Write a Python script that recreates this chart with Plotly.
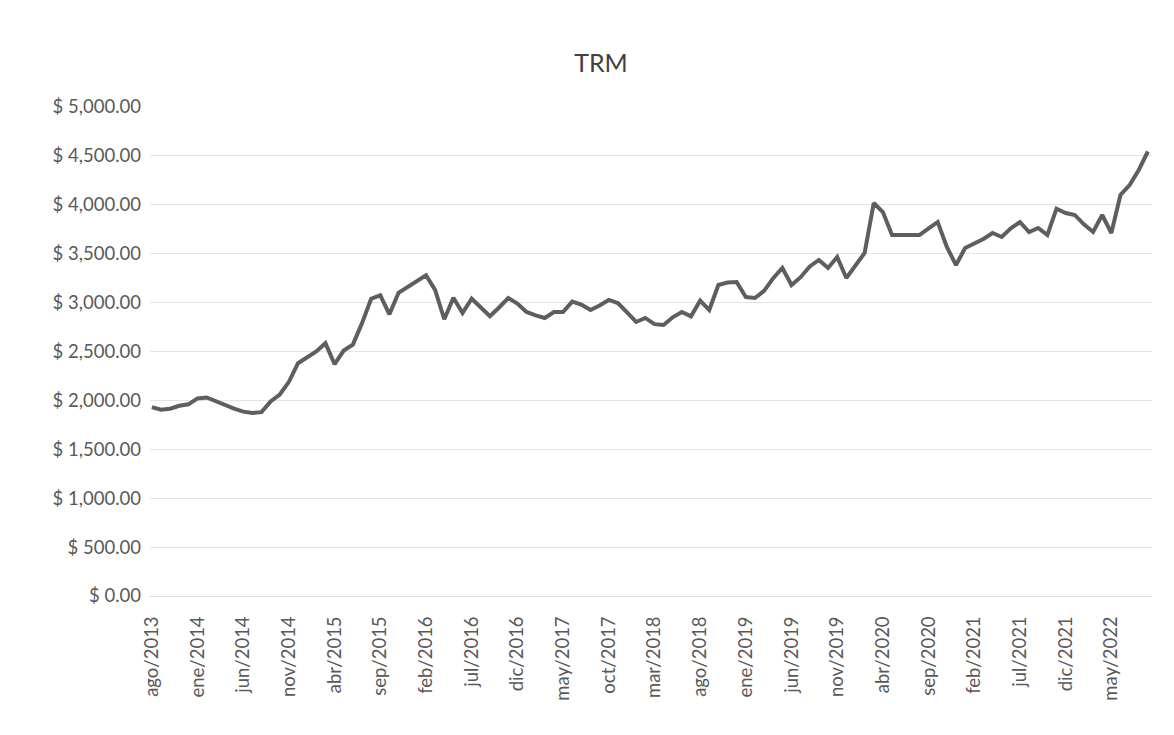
import plotly.graph_objects as go

meses = ["ene", "feb", "mar", "abr", "may", "jun", "jul", "ago", "sep", "oct", "nov", "dic"]

# monthly categories ago/2013 .. sep/2022
categories = []
y, m = 2013, 7
while (y, m) <= (2022, 8):
    categories.append(f"{meses[m]}/{y}")
    m += 1
    if m == 12:
        m = 0
        y += 1

trm = [
    1932, 1905, 1915, 1945, 1960, 2020, 2030, 1990, 1953, 1915,
    1885, 1871, 1880, 1990, 2060, 2190, 2380, 2440, 2500, 2585,
    2370, 2510, 2570, 2790, 3040, 3075, 2880, 3100, 3160, 3220,
    3280, 3130, 2830, 3050, 2894, 3040, 2945, 2860, 2950, 3047,
    2990, 2904, 2870, 2843, 2904, 2904, 3010, 2980, 2925, 2970,
    3027, 2996, 2900, 2802, 2843, 2780, 2771, 2850, 2904, 2860,
    3020, 2924, 3180, 3205, 3211, 3057, 3047, 3120, 3250, 3354,
    3180, 3260, 3370, 3436, 3354, 3466, 3252, 3380, 3507, 4018,
    3926, 3691, 3691, 3690, 3691, 3760, 3824, 3569, 3384, 3558,
    3600, 3650, 3712, 3671, 3760, 3824, 3722, 3763, 3691, 3960,
    3916, 3896, 3800, 3722, 3896, 3712, 4100, 4202, 4356, 4545,
]

tick_labels = categories[::5]
y_ticks = list(range(0, 5001, 500))
y_tick_text = [f"$ {v:,.2f}" for v in y_ticks]

font_family = "Lato, 'Open Sans', sans-serif"
text_color = "#595959"

W, H = 1158, 719

fig = go.Figure(
    go.Scatter(
        x=categories,
        y=trm,
        mode="lines",
        line=dict(color="#5e5e5e", width=4),
        name="TRM",
    )
)

fig.update_layout(
    width=W,
    height=H,
    paper_bgcolor="white",
    plot_bgcolor="white",
    showlegend=False,
    margin=dict(l=142, r=14, t=99, b=131),
    font=dict(family=font_family, color=text_color, size=18.5),
    title=dict(
        text="TRM",
        x=593 / W,
        xref="container",
        xanchor="center",
        y=1 - 55 / H,
        yref="container",
        yanchor="middle",
        font=dict(size=25, color="#404040", family=font_family),
    ),
)

fig.update_xaxes(
    type="category",
    categoryorder="array",
    categoryarray=categories,
    tickmode="array",
    tickvals=tick_labels,
    ticktext=tick_labels,
    tickangle=-90,
    range=[-0.2, len(categories) - 0.55],
    showgrid=False,
    showline=True,
    linecolor="#d9d9d9",
    linewidth=1,
    ticks="",
    ticklabelstandoff=12,
    automargin=False,
    tickfont=dict(size=18.5, color=text_color),
)

fig.update_yaxes(
    range=[0, 5000],
    tickmode="array",
    tickvals=y_ticks,
    ticktext=y_tick_text,
    showgrid=True,
    gridcolor="#e3e3e3",
    gridwidth=1,
    zeroline=False,
    showline=False,
    ticks="",
    ticklabelstandoff=8,
    automargin=False,
    tickfont=dict(size=18.5, color=text_color),
)

fig.write_html("out.html")
